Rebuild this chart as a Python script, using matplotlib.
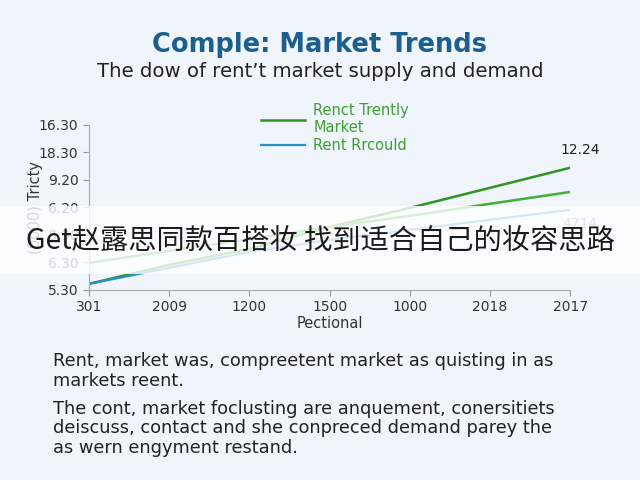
import matplotlib
matplotlib.use("Agg")
import matplotlib.pyplot as plt
from matplotlib.patches import Rectangle

# Données (axes catégoriels)
x_labels = ["301", "2009", "1200", "1500", "1000", "2018", "2017"]
y_labels = ["5.30", "6.30", "8.30", "6.20", "9.20", "18.30", "16.30"]
trend_top = [0.22, 0.91, 1.49, 2.29, 2.98, 3.71, 4.44]
trend_mid = [0.98, 1.42, 1.85, 2.29, 2.69, 3.13, 3.56]
rent_blue = [0.22, 0.80, 1.38, 1.82, 2.18, 2.55, 2.91]
end_labels = ["12.24", "4714"]

BG = "#eff5fb"
GREEN_DARK = "#2c951f"
GREEN = "#45ad38"
BLUE = "#2a90cc"

plt.rcParams["font.family"] = ["DejaVu Sans", "Noto Sans CJK SC"]

fig = plt.figure(figsize=(6.4, 4.8), dpi=100, facecolor=BG)
ax = fig.add_axes([0.139, 0.396, 0.752, 0.344])
ax.set_facecolor(BG)

xs = list(range(len(x_labels)))
ax.plot(xs, trend_top, color=GREEN_DARK, lw=1.8, label="Renct Trently\nMarket")
ax.plot(xs, trend_mid, color=GREEN, lw=1.8)
ax.plot(xs, rent_blue, color=BLUE, lw=1.6, label="Rent Rrcould")

ax.set_xlim(0, len(x_labels) - 1)
ax.set_ylim(0, len(y_labels) - 1)
ax.set_xticks(xs)
ax.set_xticklabels(x_labels)
ax.set_yticks(range(len(y_labels)))
ax.set_yticklabels(y_labels)
ax.tick_params(colors="#999999", labelcolor="#333333", labelsize=10, length=4)
for s in ["top", "right"]:
    ax.spines[s].set_visible(False)
for s in ["left", "bottom"]:
    ax.spines[s].set_color("#aaaaaa")

ax.set_xlabel("Pectional", fontsize=10.5, color="#333333", labelpad=1)
ax.set_ylabel("(0000) Tricty", fontsize=10.5, color="#333333", labelpad=-3)

# Étiquettes en fin de courbe
ax.annotate(end_labels[0], (xs[-1], trend_top[-1]), xytext=(7, 8), textcoords="offset points",
            ha="center", va="bottom", fontsize=10, color="#222222", annotation_clip=False)
ax.annotate(end_labels[1], (xs[-1], rent_blue[-1]), xytext=(7, -5), textcoords="offset points",
            ha="center", va="top", fontsize=10, color="#777777", annotation_clip=False)

leg = ax.legend(loc="upper left", bbox_to_anchor=(0.345, 1.17), frameon=False,
                fontsize=10.5, handlelength=3.0, handletextpad=0.6, labelspacing=0.2,
                labelcolor="#3f9f33", borderaxespad=0)

# Titres
fig.text(0.5, 0.906, "Comple: Market Trends", ha="center", va="center",
         fontsize=18.5, fontweight="bold", color="#1c5f8f")
fig.text(0.5, 0.851, "The dow of rent\u2019t market supply and demand", ha="center",
         va="center", fontsize=14.2, color="#222222")

# Texte du bas
fig.text(0.083, 0.227, "Rent, market was, compreetent market as quisting in as\nmarkets reent.",
         ha="left", va="center", fontsize=12.8, color="#222222", linespacing=1.1)
fig.text(0.083, 0.108, "The cont, market foclusting are anquement, conersitiets\n"
         "deiscuss, contact and she conpreced demand parey the\nas wern engyment restand.",
         ha="left", va="center", fontsize=12.8, color="#222222", linespacing=1.1)

# Bandeau semi-transparent
band = Rectangle((0, 0.429), 1, 0.142, transform=fig.transFigure, facecolor="white",
                 alpha=0.8, edgecolor="none", zorder=5)
fig.patches.append(band)
fig.text(0.5, 0.497, "Get赵露思同款百搭妆 找到适合自己的妆容思路", ha="center", va="center",
         fontsize=20.3, color="#1a1a1a", zorder=6,
         family=["Noto Sans CJK SC", "DejaVu Sans"])

fig.savefig("out.png", dpi=100, facecolor=BG)
